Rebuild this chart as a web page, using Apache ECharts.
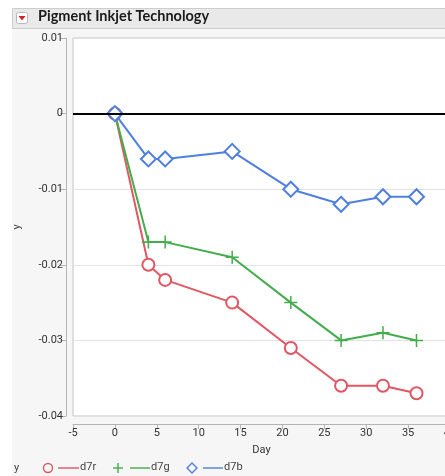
<!DOCTYPE html>
<html>
<head>
<meta charset="utf-8">
<script src="https://cdn.jsdelivr.net/npm/echarts@6/dist/echarts.min.js"></script>
<style>
  html, body { margin: 0; padding: 0; background: #ffffff; }
  #chart { width: 445px; height: 476px; }
</style>
</head>
<body>
<div id="chart"></div>
<script>
// Colour loss measurements per day for three channels
const days = [0, 4, 6, 14, 21, 27, 32, 36];
const d7r = [0, -0.020, -0.022, -0.025, -0.031, -0.036, -0.036, -0.037];
const d7g = [0, -0.017, -0.017, -0.019, -0.025, -0.030, -0.029, -0.030];
const d7b = [0, -0.006, -0.006, -0.005, -0.010, -0.012, -0.011, -0.011];
const seriesNames = ['d7r', 'd7g', 'd7b'];

const RED = '#e05763';
const GREEN = '#43ad4b';
const BLUE = '#4f7fe0';
const FONT = 'Roboto, "Noto Sans", sans-serif';

const pair = (xs, ys) => xs.map((x, i) => [x, ys[i]]);
const PLUS = 'path://M0,5.3h12v1.4h-12zM5.3,0h1.4v12h-1.4z';

function lineSeries(name, values, color, symbol, size) {
  return {
    name: name,
    type: 'line',
    data: pair(days, values),
    symbol: symbol,
    symbolSize: size,
    showSymbol: true,
    lineStyle: { color: color, width: 2 },
    itemStyle: { color: color, borderColor: color, borderWidth: 1.6 },
    emphasis: { disabled: true },
    animation: false
  };
}

const chart = echarts.init(document.getElementById('chart'), null, { renderer: 'canvas' });

const red = lineSeries(seriesNames[0], d7r, RED, 'emptyCircle', 12);
red.markLine = {
  silent: true,
  symbol: ['none', 'none'],
  label: { show: false },
  lineStyle: { color: '#000', width: 2, type: 'solid' },
  data: [{ yAxis: 0 }],
  animation: false
};
const green = lineSeries(seriesNames[1], d7g, GREEN, PLUS, 13);
green.itemStyle = { color: GREEN, borderWidth: 0 };
const blue = lineSeries(seriesNames[2], d7b, BLUE, 'emptyDiamond', 15);

chart.setOption({
  animation: false,
  backgroundColor: '#ffffff',
  graphic: [
    // panel background
    { type: 'rect', z: -10, shape: { x: 12, y: 28, width: 440, height: 460 },
      style: { fill: '#f6f6f6' } },
    // title bar
    { type: 'rect', z: -5, shape: { x: 12.5, y: 8.5, width: 440, height: 20 },
      style: { fill: '#e9e9e9', stroke: '#cdcdcd', lineWidth: 1 } },
    { type: 'rect', shape: { x: 16.5, y: 12.5, width: 11, height: 11, r: 2 },
      style: { fill: '#ffffff', stroke: '#b8b8b8', lineWidth: 1 } },
    { type: 'polygon', shape: { points: [[18.5, 16], [25.5, 16], [22, 20.5]] },
      style: { fill: '#d4202a' } },
    { type: 'text', left: 38, top: 9,
      style: { text: 'Pigment Inkjet Technology', font: 'bold 14.5px Lato, "Noto Sans", sans-serif', fill: '#1a1a1a' } },
    // legend
    { type: 'text', left: 14, top: 463,
      style: { text: 'y', font: '11px ' + FONT, fill: '#444' } },
    { type: 'circle', shape: { cx: 48, cy: 468, r: 4.5 },
      style: { fill: 'none', stroke: RED, lineWidth: 1.4 } },
    { type: 'line', shape: { x1: 58, y1: 468, x2: 79, y2: 468 },
      style: { stroke: RED, lineWidth: 1.4 } },
    { type: 'text', left: 80, top: 462,
      style: { text: 'd7r', font: '11px ' + FONT, fill: '#444' } },
    { type: 'line', shape: { x1: 113, y1: 468, x2: 123, y2: 468 },
      style: { stroke: GREEN, lineWidth: 1.4 } },
    { type: 'line', shape: { x1: 118, y1: 463, x2: 118, y2: 473 },
      style: { stroke: GREEN, lineWidth: 1.4 } },
    { type: 'line', shape: { x1: 130, y1: 468, x2: 150, y2: 468 },
      style: { stroke: GREEN, lineWidth: 1.4 } },
    { type: 'text', left: 151, top: 462,
      style: { text: 'd7g', font: '11px ' + FONT, fill: '#444' } },
    { type: 'polygon', shape: { points: [[192, 463], [197, 468], [192, 473], [187, 468]] },
      style: { fill: 'none', stroke: BLUE, lineWidth: 1.4 } },
    { type: 'line', shape: { x1: 203, y1: 468, x2: 223, y2: 468 },
      style: { stroke: BLUE, lineWidth: 1.4 } },
    { type: 'text', left: 224, top: 462,
      style: { text: 'd7b', font: '11px ' + FONT, fill: '#444' } }
  ],
  grid: {
    left: 73, top: 38, right: -5, bottom: 60,
    outerBoundsMode: 'none', containLabel: false,
    show: true, backgroundColor: '#ffffff', borderColor: '#c4c4c4', borderWidth: 1
  },
  xAxis: {
    type: 'value', min: -5, max: 40, interval: 5,
    offset: 8,
    name: 'Day', nameLocation: 'middle', nameGap: 21,
    nameTextStyle: { fontFamily: FONT, fontSize: 11, color: '#333' },
    axisLine: { show: true, onZero: false, lineStyle: { color: '#b4b4b4', width: 1 } },
    axisTick: { show: true, length: 5, lineStyle: { color: '#b4b4b4' } },
    axisLabel: { margin: 4, fontFamily: FONT, fontSize: 11, color: '#333' },
    splitLine: { show: false }
  },
  yAxis: {
    type: 'value', min: -0.04, max: 0.01, interval: 0.01,
    offset: 7,
    name: 'y', nameLocation: 'middle', nameGap: 43,
    nameTextStyle: { fontFamily: FONT, fontSize: 11, color: '#444' },
    axisLine: { show: true, onZero: false, lineStyle: { color: '#b4b4b4', width: 1 } },
    axisTick: { show: true, length: 6, lineStyle: { color: '#b4b4b4' } },
    axisLabel: { margin: 3, fontFamily: FONT, fontSize: 11, color: '#333',
      formatter: v => (Math.abs(v) < 1e-9 ? '0' : String(+v.toFixed(2))) },
    splitLine: { show: true, lineStyle: { color: '#e2e2e2', width: 1 } }
  },
  series: [red, green, blue]
});
</script>
</body>
</html>
